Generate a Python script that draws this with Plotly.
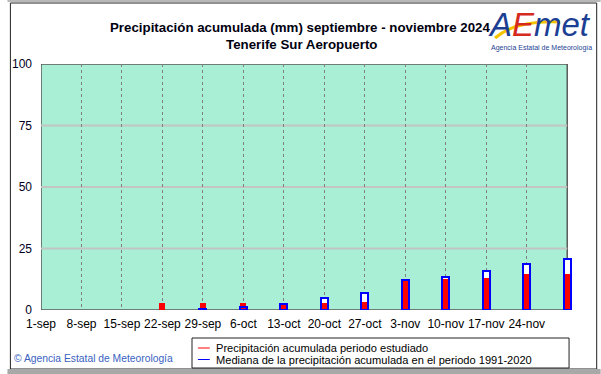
import plotly.graph_objects as go

# ---- data ----
dates = ["2024-09-01", "2024-09-08", "2024-09-15", "2024-09-22", "2024-09-29",
         "2024-10-06", "2024-10-13", "2024-10-20", "2024-10-27", "2024-11-03",
         "2024-11-10", "2024-11-17", "2024-11-24", "2024-12-01"]
precip_2024 = [0, 0, 0, 2.9, 2.9, 2.9, 2.9, 2.9, 3.4, 11.9, 12.6, 13.0, 14.8, 14.8]
median_1991_2020 = [0, 0, 0, 0, 0.3, 1.35, 2.3, 4.75, 6.8, 12.2, 13.5, 15.7, 18.6, 20.6]
tick_dates = dates[:13]
tick_labels = ["1-sep", "8-sep", "15-sep", "22-sep", "29-sep", "6-oct", "13-oct",
               "20-oct", "27-oct", "3-nov", "10-nov", "17-nov", "24-nov"]
y_ticks = [0, 25, 50, 75, 100]
title_line1 = "Precipitación acumulada (mm) septiembre - noviembre 2024"
title_line2 = "Tenerife Sur Aeropuerto"
legend_labels = ["Precipitación acumulada periodo estudiado",
                 "Mediana de la precipitación acumulada en el periodo 1991-2020"]

# ---- geometry (pixels) ----
W, H = 601, 374
L, R, T, B = 34, 28, 64, 64
PW, PH = W - L - R, H - T - B
DAY_MS = 86400000
px_per_day = PW / 92.0


def px(x):
    return (x - L) / PW


def py(y):
    return (H - B - y) / PH


def nz(v):
    return [None if a == 0 else a for a in v]


blue = "#0000ff"
red = "#ff0000"
font = "Arial, Liberation Sans, sans-serif"

fig = go.Figure()
blue_w = 7 / px_per_day * DAY_MS
red_w = 6 / px_per_day * DAY_MS
fig.add_trace(go.Bar(x=dates, y=nz(median_1991_2020), width=blue_w,
                     marker=dict(color="white", line=dict(color=blue, width=2)),
                     showlegend=False, hoverinfo="skip"))
fig.add_trace(go.Bar(x=dates, y=nz(precip_2024), width=red_w,
                     marker=dict(color=red, line=dict(width=0)),
                     showlegend=False, name=legend_labels[0]))
fig.add_trace(go.Bar(x=dates, y=nz(median_1991_2020), width=blue_w,
                     marker=dict(color="rgba(0,0,0,0)", line=dict(color=blue, width=2)),
                     showlegend=False, name=legend_labels[1]))

shapes = []
# plot background frame
shapes.append(dict(type="rect", xref="x", yref="y", x0=dates[0], x1=dates[-1], y0=0, y1=100,
                   fillcolor="#a9efd6", line=dict(color="#5a5a5a", width=1.5), layer="below"))
for yv in y_ticks[1:-1]:
    shapes.append(dict(type="line", xref="x", yref="y", x0=dates[0], x1=dates[-1], y0=yv, y1=yv,
                       line=dict(color="#c4c4c4", width=2), layer="below"))
# outer border
shapes.append(dict(type="rect", xref="paper", yref="paper", x0=px(3), x1=px(597), y0=py(3), y1=py(369),
                   line=dict(color="#222222", width=1), layer="below"))
shapes.append(dict(type="rect", xref="paper", yref="paper", x0=px(0), x1=px(601), y0=py(369), y1=py(374),
                   fillcolor="#a8a8a8", line=dict(width=0), layer="below"))
shapes.append(dict(type="rect", xref="paper", yref="paper", x0=px(0), x1=px(601), y0=py(0), y1=py(2),
                   fillcolor="#b8b8b8", line=dict(width=0), layer="below"))
# legend box
shapes.append(dict(type="rect", xref="paper", yref="paper", x0=px(187), x1=px(569), y0=py(338), y1=py(368),
                   fillcolor="white", line=dict(color="#222222", width=1)))
shapes.append(dict(type="line", xref="paper", yref="paper", x0=px(193), x1=px(205), y0=py(348), y1=py(348),
                   line=dict(color=red, width=1)))
shapes.append(dict(type="line", xref="paper", yref="paper", x0=px(193), x1=px(205), y0=py(359.5), y1=py(359.5),
                   line=dict(color=blue, width=1)))
# logo swoosh
shapes.append(dict(type="path", xref="paper", yref="paper",
                   path=f"M {px(494)},{py(38)} Q {px(515)},{py(20)} {px(560)},{py(22)}",
                   line=dict(color="#f5c400", width=3)))

annotations = [
    dict(text=f"<b>{title_line1}</b>", x=px(296), y=py(27), xref="paper", yref="paper",
         showarrow=False, xanchor="center", yanchor="middle",
         font=dict(family=font, size=13.3, color="#000010")),
    dict(text=f"<b>{title_line2}</b>", x=px(298), y=py(44), xref="paper", yref="paper",
         showarrow=False, xanchor="center", yanchor="middle",
         font=dict(family=font, size=13.3, color="#000010")),
    dict(text=legend_labels[0], x=px(210), y=py(348), xref="paper", yref="paper",
         showarrow=False, xanchor="left", yanchor="middle", borderpad=0,
         font=dict(family=font, size=11.1, color="#000000")),
    dict(text=legend_labels[1], x=px(210), y=py(359.5), xref="paper", yref="paper",
         showarrow=False, xanchor="left", yanchor="middle", borderpad=0,
         font=dict(family=font, size=11.1, color="#000000")),
    dict(text="© Agencia Estatal de Meteorología", x=px(5), y=py(358), xref="paper", yref="paper",
         showarrow=False, xanchor="left", yanchor="middle",
         font=dict(family=font, size=10.3, color="#3a5fbf")),
    dict(text="<i><span style='color:#1c3f94'>A</span><span style='color:#d62a1e'>E</span>"
              "<span style='color:#1c3f94'>met</span></i>",
         x=px(539), y=py(24), xref="paper", yref="paper", showarrow=False,
         xanchor="center", yanchor="middle", font=dict(family=font, size=33, color="#1c3f94")),
    dict(text="Agencia Estatal de Meteorología", x=px(541), y=py(48), xref="paper", yref="paper",
         showarrow=False, xanchor="center", yanchor="middle",
         font=dict(family=font, size=7, color="#1c3f94")),
]

fig.update_layout(
    width=W, height=H,
    margin=dict(l=L, r=R, t=T, b=B, pad=0),
    paper_bgcolor="white", plot_bgcolor="white",
    barmode="overlay", bargap=0,
    shapes=shapes, annotations=annotations,
    showlegend=False,
    xaxis=dict(type="date", range=["2024-09-01", "2024-12-02"],
               tickvals=tick_dates, ticktext=tick_labels, ticks="",
               showgrid=True, gridcolor="#808080", griddash="3px,3px", gridwidth=1,
               showline=False, zeroline=False, ticklabelstandoff=5,
               tickfont=dict(family=font, size=12, color="#000000")),
    yaxis=dict(range=[0, 100], tickvals=y_ticks, ticks="", showgrid=False,
               showline=False, zeroline=False, ticklabelstandoff=8,
               tickfont=dict(family=font, size=12, color="#000022")),
)

fig.write_html("out.html", config={"displayModeBar": False},
               post_script="document.body.style.margin='0px';document.body.style.overflow='hidden';")
